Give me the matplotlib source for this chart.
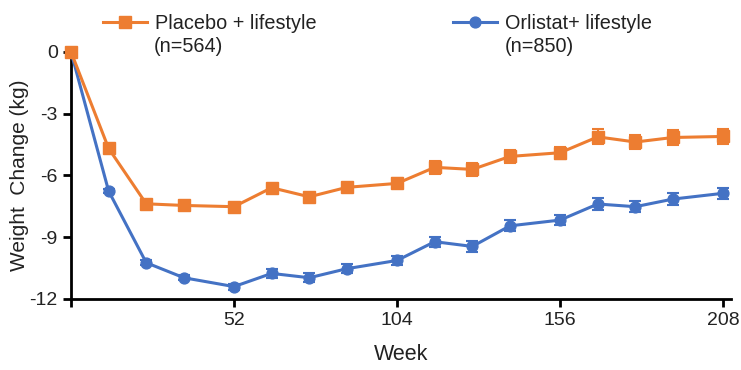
import matplotlib.pyplot as plt
from matplotlib.lines import Line2D

plt.rcParams['font.family'] = ['Liberation Sans', 'DejaVu Sans']

# weeks of follow-up
weeks = [0, 12, 24, 36, 52, 64, 76, 88, 104, 116, 128, 140, 156, 168, 180, 192, 208]

# mean weight change (kg) and standard error
placebo = [0, -4.69, -7.38, -7.46, -7.52, -6.60, -7.04, -6.58, -6.39,
           -5.61, -5.71, -5.08, -4.90, -4.13, -4.38, -4.16, -4.11]
placebo_se = [0, 0.10, 0.12, 0.13, 0.15, 0.18, 0.20, 0.22, 0.24,
              0.30, 0.30, 0.30, 0.30, 0.36, 0.35, 0.35, 0.35]
orlistat = [0, -6.76, -10.24, -10.97, -11.40, -10.76, -10.97, -10.53, -10.13,
            -9.22, -9.45, -8.45, -8.17, -7.39, -7.52, -7.15, -6.87]
orlistat_se = [0, 0.10, 0.12, 0.13, 0.15, 0.22, 0.22, 0.22, 0.24,
               0.25, 0.25, 0.26, 0.26, 0.28, 0.28, 0.28, 0.28]

orange = '#ED7D31'
blue = '#4472C4'

fig = plt.figure(figsize=(7.41, 3.70), dpi=100)
ax = fig.add_axes([0.0958, 0.192, 0.8907, 0.668])

ax.errorbar(weeks, orlistat, yerr=orlistat_se, color=blue, marker='o', markersize=7.8,
            lw=2.2, capsize=4, capthick=1.5, elinewidth=1.5, clip_on=False, zorder=3)
ax.errorbar(weeks, placebo, yerr=placebo_se, color=orange, marker='s', markersize=8.7,
            lw=2.2, capsize=4, capthick=1.5, elinewidth=1.5, clip_on=False, zorder=4)

ax.set_xlim(0, 210.5)
ax.set_ylim(-12, 0)
ax.set_xticks([0, 52, 104, 156, 208])
ax.set_xticklabels(['', '52', '104', '156', '208'])
ax.set_yticks([0, -3, -6, -9, -12])
ax.set_yticklabels(['0', '-3', '-6', '-9', '-12'])

for side in ['top', 'right']:
    ax.spines[side].set_visible(False)
for side in ['left', 'bottom']:
    ax.spines[side].set_linewidth(2)
ax.tick_params(width=2, length=6, labelsize=14, colors='black', pad=3.5)
ax.tick_params(axis='x', labelcolor='#222222')
ax.tick_params(axis='y', labelcolor='#222222')

ax.set_xlabel('Week', fontsize=15.5, labelpad=11, color='#222222')
ax.set_ylabel('Weight  Change (kg)', fontsize=15, labelpad=0.5, color='#222222')

# legend above the plot, second line with group sizes
handles = [Line2D([], [], color=orange, marker='s', markersize=8.7, lw=2.2),
           Line2D([], [], color=blue, marker='o', markersize=7.8, lw=2.2)]
fig.legend(handles, ['Placebo + lifestyle', 'Orlistat+ lifestyle'], ncol=2,
           loc='upper left', bbox_to_anchor=(0.139, 0.963), frameon=False,
           fontsize=14.3, handlelength=2.2, columnspacing=6.9, handletextpad=0.4,
           borderaxespad=0, borderpad=0, labelcolor='#222222')
fig.text(0.2078, 0.873, '(n=564)', fontsize=14.3, color='#222222', va='center')
fig.text(0.6815, 0.873, '(n=850)', fontsize=14.3, color='#222222', va='center')

plt.savefig('out.png', dpi=100)
